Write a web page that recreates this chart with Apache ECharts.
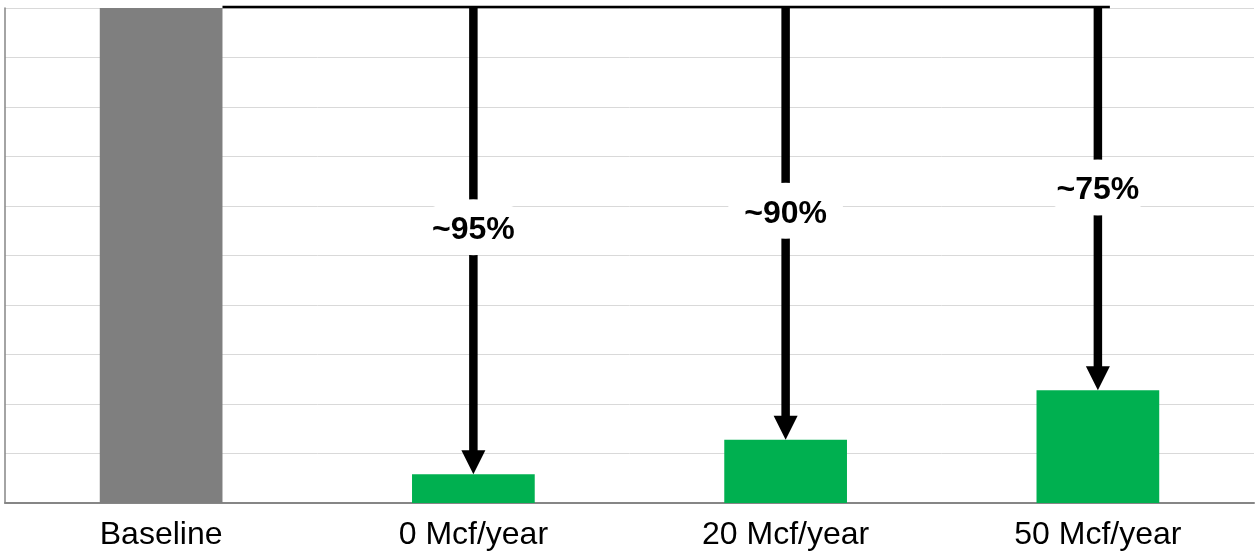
<!DOCTYPE html>
<html>
<head>
<meta charset="utf-8">
<script src="https://cdn.jsdelivr.net/npm/echarts@6/dist/echarts.min.js"></script>
<style>
  html, body { margin: 0; padding: 0; background: #fff; }
  #chart { width: 1256px; height: 555px; }
</style>
</head>
<body>
<div id="chart"></div>
<script>
// Emissions relative to the baseline case (baseline = 100)
const categories = ['Baseline', '0 Mcf/year', '20 Mcf/year', '50 Mcf/year'];
const emissions = [100, 5.8, 12.8, 22.8];
const reductionLabels = ['', '~95%', '~90%', '~75%'];
const yTicks = [0, 10, 20, 30, 40, 50, 60, 70, 80, 90, 100];

const GRAY = '#7f7f7f';
const GREEN = '#00b050';
const BAR_WIDTH_RATIO = 0.393;
const FONT = '"Liberation Sans", Arial, sans-serif';

const chart = echarts.init(document.getElementById('chart'), null, { renderer: 'canvas' });

// Arrows from the baseline level down to each scenario bar, with a reduction label
function renderArrow(params, api) {
  const idx = api.value(0);
  const val = api.value(1);
  const top = api.coord([idx, yTicks[yTicks.length - 1]]);
  const tip = api.coord([idx, val]);
  const x = top[0];
  const headH = 24, headW = 24, shaftW = 8.5;
  const children = [];

  if (params.dataIndex === 0) {
    const band = api.size([1, 0])[0];
    const startX = api.coord([0, 100])[0] + band * BAR_WIDTH_RATIO / 2;
    const endX = api.coord([categories.length - 1, 100])[0] + 12;
    children.push({
      type: 'line',
      shape: { x1: startX, y1: top[1] - 1, x2: endX, y2: top[1] - 1 },
      style: { stroke: '#000', lineWidth: 2.5 }
    });
  }

  children.push({
    type: 'line',
    shape: { x1: x, y1: top[1] - 1, x2: x, y2: tip[1] - headH + 1 },
    style: { stroke: '#000', lineWidth: shaftW }
  });
  children.push({
    type: 'polygon',
    shape: { points: [[x - headW / 2, tip[1] - headH], [x + headW / 2, tip[1] - headH], [x, tip[1]]] },
    style: { fill: '#000' }
  });

  const ly = top[1] + (tip[1] - top[1]) * 0.47;
  children.push({
    type: 'circle',
    x: x, y: ly,
    scaleX: 58 / 28,
    shape: { cx: 0, cy: 0, r: 28 },
    style: { fill: '#fff' }
  });
  children.push({
    type: 'text',
    x: x, y: ly + 3,
    style: {
      text: reductionLabels[idx],
      font: 'bold 32px ' + FONT,
      fill: '#000',
      align: 'center',
      verticalAlign: 'middle'
    }
  });
  return { type: 'group', children: children };
}

const arrowData = [];
for (let i = 1; i < categories.length; i++) arrowData.push([i, emissions[i]]);

chart.setOption({
  animation: false,
  backgroundColor: '#fff',
  grid: { left: 5, right: 2, top: 8, bottom: 52, containLabel: false },
  xAxis: {
    type: 'category',
    data: categories,
    axisTick: { show: false },
    axisLine: { lineStyle: { color: '#868686', width: 2 } },
    axisLabel: { fontSize: 32, color: '#000', fontFamily: FONT, margin: 16 },
    splitLine: { show: false }
  },
  yAxis: {
    type: 'value',
    min: yTicks[0],
    max: yTicks[yTicks.length - 1],
    interval: yTicks[1] - yTicks[0],
    axisLine: { show: true, lineStyle: { color: '#868686', width: 1.5 } },
    axisTick: { show: false },
    axisLabel: { show: false },
    splitLine: { lineStyle: { color: '#d9d9d9', width: 1 } }
  },
  series: [
    {
      type: 'bar',
      barWidth: (BAR_WIDTH_RATIO * 100) + '%',
      data: emissions.map((v, i) => ({ value: v, itemStyle: { color: i === 0 ? GRAY : GREEN } })),
      emphasis: { disabled: true },
      z: 2
    },
    {
      type: 'custom',
      renderItem: renderArrow,
      data: arrowData,
      encode: { x: 0, y: 1 },
      z: 3,
      silent: true
    }
  ]
});
</script>
</body>
</html>
